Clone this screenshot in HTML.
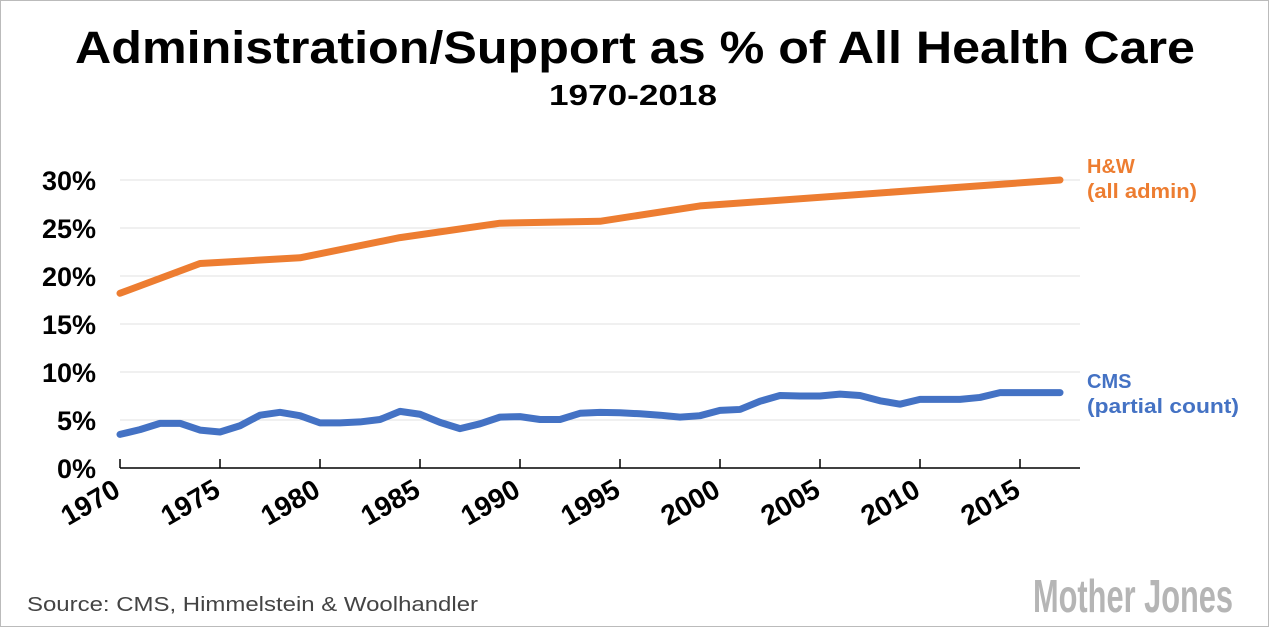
<!DOCTYPE html>
<html><head><meta charset="utf-8"><style>
body{margin:0;background:#fff;}
#wrap{position:relative;width:1267px;height:625px;border:1px solid #bbb;overflow:hidden;font-family:"Liberation Sans",sans-serif;}
</style></head><body>
<div id="wrap">
<svg id="c" width="1267" height="625" xmlns="http://www.w3.org/2000/svg">
<text x="634" y="62" text-anchor="middle" font-size="45" font-weight="bold" fill="#000" textLength="1120" lengthAdjust="spacingAndGlyphs">Administration/Support as % of All Health Care</text>
<text x="632" y="104" text-anchor="middle" font-size="29" font-weight="bold" fill="#000" textLength="168" lengthAdjust="spacingAndGlyphs">1970-2018</text>
<g id="grid"></g><g id="axes"></g><g id="series"></g>
<text x="1086" y="172" font-size="20" fill="#ED7D31" font-weight="bold">H&amp;W</text>
<text x="1086" y="197" font-size="20" fill="#ED7D31" font-weight="bold" textLength="110" lengthAdjust="spacingAndGlyphs">(all admin)</text>
<text x="1086" y="387" font-size="20" fill="#4472C4" font-weight="bold">CMS</text>
<text x="1086" y="412" font-size="20" fill="#4472C4" font-weight="bold" textLength="152" lengthAdjust="spacingAndGlyphs">(partial count)</text>
<text x="26" y="610" font-size="20" fill="#444" textLength="451" lengthAdjust="spacingAndGlyphs">Source: CMS, Himmelstein &amp; Woolhandler</text>
<text x="1232" y="611" text-anchor="end" font-size="46" font-weight="bold" fill="#b5b5b5" textLength="200" lengthAdjust="spacingAndGlyphs">Mother Jones</text>
</svg></div>
<script>
const cmsYears=[1970,1971,1972,1973,1974,1975,1976,1977,1978,1979,1980,1981,1982,1983,1984,1985,1986,1987,1988,1989,1990,1991,1992,1993,1994,1995,1996,1997,1998,1999,2000,2001,2002,2003,2004,2005,2006,2007,2008,2009,2010,2011,2012,2013,2014,2015,2016,2017];
const cmsValues=[3.5,4.0,4.65,4.65,3.95,3.75,4.4,5.5,5.8,5.45,4.7,4.7,4.8,5.05,5.9,5.6,4.75,4.1,4.6,5.3,5.35,5.05,5.05,5.7,5.8,5.75,5.65,5.5,5.3,5.45,6.0,6.1,6.95,7.55,7.5,7.5,7.7,7.55,7.0,6.65,7.15,7.15,7.15,7.35,7.85,7.85,7.85,7.85];
const hwYears=[1970,1974,1979,1984,1989,1994,1999,2017];
const hwValues=[18.2,21.3,21.9,24.0,25.5,25.7,27.3,30.0];
const yTicks=[0,5,10,15,20,25,30];
const xTickYears=[1970,1975,1980,1985,1990,1995,2000,2005,2010,2015];
const NS="http://www.w3.org/2000/svg";
const X=y=>119+(y-1970)*20;
const Y=v=>467-v*9.6;
function mk(t,a,p){const e=document.createElementNS(NS,t);for(const k in a)e.setAttribute(k,a[k]);p.appendChild(e);return e;}
const grid=document.getElementById('grid'),axes=document.getElementById('axes'),ser=document.getElementById('series');
yTicks.forEach(v=>{
 if(v>0){const l=mk('line',{x1:119,x2:1079,y1:Y(v),y2:Y(v),stroke:'#e0e0e0','stroke-width':1},grid);
 
 }
 const t=mk('text',{x:95,y:Y(v)+10,'text-anchor':'end','font-size':27,'font-weight':'bold',fill:'#000'},axes);
 t.textContent=v+'%';
 
 
});
const ax=mk('line',{x1:119,x2:1079,y1:467,y2:467,stroke:'#000','stroke-width':1.5},axes);


xTickYears.forEach(yr=>{
 const tk=mk('line',{x1:X(yr),x2:X(yr),y1:458,y2:467,stroke:'#000','stroke-width':1.5},axes);
 
 
 const px=X(yr)+2;
 const t=mk('text',{x:px,y:494,'text-anchor':'end','font-size':28,'font-weight':'bold',fill:'#000',transform:`rotate(-30 ${px} 494)`},axes);
 t.textContent=yr;
 
 
});
function line(ys,vs,col,name){
 const d=ys.map((y,i)=>(i?'L':'M')+X(y)+' '+Y(vs[i])).join(' ');
 const p=mk('path',{d:d,fill:'none',stroke:col,'stroke-width':7,'stroke-linejoin':'round','stroke-linecap':'round'},ser);
 
 
}
line(hwYears,hwValues,'#ED7D31','hw-line');
line(cmsYears,cmsValues,'#4472C4','cms-line');
</script>
</body></html>
